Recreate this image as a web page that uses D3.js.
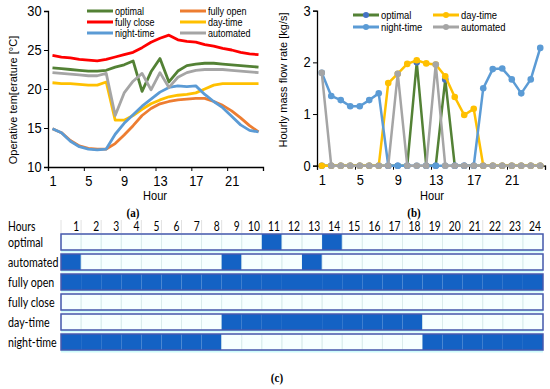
<html lang="eng">
<head>
<script src="https://d3js.org/d3.v7.min.js" charset="utf-8"></script>
<style>
  body { margin: 0; background: #fff; }
  text { font-family: 'Liberation Sans', Arial, sans-serif; fill: #000; }
  .tbl { font-family: Lato, 'Open Sans', sans-serif; }
  .cap { font-family: 'Liberation Serif', serif; font-weight: bold; }
</style>
</head>
<body>
<script>
// hours of the day
var hours = [1,2,3,4,5,6,7,8,9,10,11,12,13,14,15,16,17,18,19,20,21,22,23,24];
var hourLabels = [1,5,9,13,17,21];

// (a) operative temperature [°C]
var tOptimal   = [22.7,22.6,22.5,22.4,22.3,22.3,22.4,22.8,23.1,23.6,19.7,22.2,23.9,20.9,22.3,23.0,23.2,23.3,23.3,23.2,23.1,23.0,22.9,22.8];
var tFullyOpen = [14.9,14.4,13.4,12.7,12.4,12.3,12.3,13.0,14.1,15.3,16.6,17.5,18.1,18.4,18.6,18.7,18.8,18.8,18.4,17.9,17.2,16.3,15.3,14.5];
var tFullyClose= [24.3,24.1,24.0,23.8,23.7,23.6,23.8,24.1,24.4,24.7,25.3,26.0,26.5,26.9,26.3,26.1,26.0,25.7,25.5,25.2,25.0,24.7,24.5,24.4];
var tDayTime   = [20.8,20.7,20.7,20.6,20.5,20.5,20.9,16.0,16.0,16.6,17.4,18.1,18.6,19.0,19.2,19.3,19.5,20.0,20.5,20.7,20.7,20.7,20.7,20.7];
var tNightTime = [14.9,14.4,13.3,12.6,12.3,12.2,12.3,14.2,15.6,16.7,17.8,18.7,19.6,20.2,20.4,20.3,20.4,19.3,18.4,17.6,16.5,15.4,14.7,14.5];
var tAutomated = [22.1,22.0,21.9,21.8,21.7,21.7,22.0,16.6,19.5,21.0,22.0,19.9,22.1,20.2,21.5,22.1,22.4,22.5,22.5,22.5,22.4,22.3,22.2,22.1];

// (b) hourly mass flow rate [kg/s]
var fOptimal   = [0,0,0,0,0,0,0,0,0,0,2.0,0,0,1.67,0,0,0,0,0,0,0,0,0,0];
var fDayTime   = [0,0,0,0,0,0,0,1.6,1.78,1.97,2.04,1.98,1.96,1.73,1.33,0.98,1.1,0,0,0,0,0,0,0];
var fNightTime = [1.8,1.35,1.27,1.15,1.15,1.27,1.4,0,0,0,0,0,0,0,0,0,0,1.5,1.87,1.88,1.67,1.4,1.67,2.28];
var fAutomated = [1.8,0,0,0,0,0,0,0,1.78,0,0,0,1.96,0,0,0,0,0,0,0,0,0,0,0];

// (c) window opening schedule (1 = open)
var schedNames = ["optimal","automated","fully open","fully close","day-time","night-time"];
var sOptimal   = [0,0,0,0,0,0,0,0,0,0,1,0,0,1,0,0,0,0,0,0,0,0,0,0];
var sAutomated = [1,0,0,0,0,0,0,0,1,0,0,0,1,0,0,0,0,0,0,0,0,0,0,0];
var sFullyOpen = [1,1,1,1,1,1,1,1,1,1,1,1,1,1,1,1,1,1,1,1,1,1,1,1];
var sFullyClose= [0,0,0,0,0,0,0,0,0,0,0,0,0,0,0,0,0,0,0,0,0,0,0,0];
var sDayTime   = [0,0,0,0,0,0,0,0,1,1,1,1,1,1,1,1,1,1,0,0,0,0,0,0];
var sNightTime = [1,1,1,1,1,1,1,1,0,0,0,0,0,0,0,0,0,0,1,1,1,1,1,1];

var SX = 0.82; // the figure is squeezed horizontally

var svg = d3.select("body").append("svg").attr("width", 550).attr("height", 389);

function label(g, x, y, s, size, anchor, cls, sx) {
  var t = g.append("text")
    .attr("transform", "translate(" + x + "," + y + ") scale(" + (sx || SX) + ",1)")
    .attr("font-size", size)
    .attr("text-anchor", anchor || "start")
    .attr("dy", "0.35em")
    .text(s);
  if (cls) t.attr("class", cls);
  return t;
}

function vlabel(g, x, y, s, size) {
  return g.append("text")
    .attr("transform", "translate(" + x + "," + y + ") rotate(-90)")
    .attr("font-size", size).attr("text-anchor", "middle").attr("dy", "0.35em")
    .text(s);
}

function axes(g, x, y, yTicks, x0, y0) {
  var ya = g.append("g").attr("transform", "translate(" + x0 + ",0)")
    .call(d3.axisLeft(y).tickValues(yTicks).tickSize(4).tickPadding(3).tickFormat(d3.format("d")));
  ya.select(".domain").attr("stroke", "#000").attr("stroke-width", 1.3);
  ya.selectAll(".tick line").attr("stroke", "#000");
  ya.selectAll(".tick text").attr("font-size", 14).attr("font-family", "Liberation Sans")
    .attr("transform", "scale(0.92,1)");

  var xa = g.append("g").attr("transform", "translate(0," + y0 + ")")
    .call(d3.axisBottom(x).tickValues(hourLabels).tickSize(0).tickPadding(9));
  xa.select(".domain").remove();
  xa.selectAll(".tick text").attr("font-size", 14).attr("font-family", "Liberation Sans")
    .attr("transform", "scale(0.92,1)");

  var xt = g.append("g").attr("transform", "translate(0," + y0 + ")")
    .call(d3.axisBottom(x).tickValues([0.5,4.5,8.5,12.5,16.5,20.5,24.5]).tickSize(4).tickFormat(""));
  xt.select(".domain").attr("stroke", "#000").attr("stroke-width", 1.3);
  xt.selectAll(".tick line").attr("stroke", "#000");
}

// ---------- (a) ----------
var ga = svg.append("g");
var xA = d3.scaleLinear().domain([0.5, 24.5]).range([48, 263]);
var yA = d3.scaleLinear().domain([10, 30]).range([167, 11]);
axes(ga, xA, yA, [10,15,20,25,30], 48, 167);

var seriesA = [
  {name: "optimal", v: tOptimal, c: "#538135"},
  {name: "fully open", v: tFullyOpen, c: "#ED7D31"},
  {name: "fully close", v: tFullyClose, c: "#FF0000"},
  {name: "day-time", v: tDayTime, c: "#FFC000"},
  {name: "night-time", v: tNightTime, c: "#5B9BD5"},
  {name: "automated", v: tAutomated, c: "#A5A5A5"}
];
var lineA = d3.line().x(function(d, i) { return xA(hours[i]); }).y(function(d) { return yA(d); });
ga.selectAll(".sa").data(seriesA).enter().append("path")
  .attr("fill", "none").attr("stroke", function(d) { return d.c; })
  .attr("stroke-width", 2.8).attr("stroke-linejoin", "round")
  .attr("d", function(d) { return lineA(d.v); });

seriesA.forEach(function(s, i) {
  var lx = (i % 2 == 0) ? 87 : 180, ly = 11 + Math.floor(i / 2) * 11;
  ga.append("line").attr("x1", lx).attr("x2", lx + 26).attr("y1", ly).attr("y2", ly)
    .attr("stroke", s.c).attr("stroke-width", 3);
  label(ga, lx + 28, ly, s.name, 11);
});

vlabel(ga, 13, 100, "Operative tem[erature [°C]", 11);
label(ga, 155, 195, "Hour", 13.5, "middle");
label(ga, 133, 212, "(a)", 13.5, "middle", "cap");

// ---------- (b) ----------
var gb = svg.append("g");
var xB = d3.scaleLinear().domain([0.5, 24.5]).range([317, 545]);
var yB = d3.scaleLinear().domain([0, 3]).range([165.7, 10.7]);
axes(gb, xB, yB, [0,1,2,3], 317, 165.7);

var seriesB = [
  {name: "optimal", v: fOptimal, c: "#538135", m: "#4472C4"},
  {name: "day-time", v: fDayTime, c: "#FFC000", m: "#FFC000"},
  {name: "night-time", v: fNightTime, c: "#5B9BD5", m: "#5B9BD5"},
  {name: "automated", v: fAutomated, c: "#A5A5A5", m: "#A5A5A5"}
];
var lineB = d3.line().x(function(d, i) { return xB(hours[i]); }).y(function(d) { return yB(d); });
seriesB.forEach(function(s) {
  var g = gb.append("g");
  g.append("path").attr("fill", "none").attr("stroke", s.c).attr("stroke-width", 2.5)
    .attr("stroke-linejoin", "round").attr("d", lineB(s.v));
  g.selectAll("circle").data(s.v).enter().append("circle")
    .attr("cx", function(d, i) { return xB(hours[i]); })
    .attr("cy", function(d) { return yB(d); })
    .attr("r", 3.3).attr("fill", s.m);
});

seriesB.forEach(function(s, i) {
  var lx = (i % 2 == 0) ? 353 : 433, ly = 15 + Math.floor(i / 2) * 12;
  gb.append("line").attr("x1", lx).attr("x2", lx + 26).attr("y1", ly).attr("y2", ly)
    .attr("stroke", s.c).attr("stroke-width", 3);
  gb.append("circle").attr("cx", lx + 13).attr("cy", ly).attr("r", 3).attr("fill", s.m);
  label(gb, lx + 28, ly, s.name, 11.5);
});

vlabel(gb, 283, 80, "Hourly mass flow rate [kg/s]", 11);
label(gb, 432, 195, "Hour", 13.5, "middle");
label(gb, 414, 212, "(b)", 13.5, "middle", "cap");

// ---------- (c) ----------
var gc = svg.append("g");
var sched = [sOptimal, sAutomated, sFullyOpen, sFullyClose, sDayTime, sNightTime];
var xC = d3.scaleBand().domain(hours).range([61, 543]);
var yC = d3.scaleBand().domain(schedNames).range([234, 350]).paddingInner(0.2);

label(gc, 8, 227, "Hours", 12.5, "start", "tbl");
gc.selectAll(".hd").data(hours).enter().append("line")
  .attr("x1", function(d) { return xC(d); }).attr("x2", function(d) { return xC(d); })
  .attr("y1", 220).attr("y2", 233).attr("stroke", "#e2e2e2");
hours.forEach(function(h) {
  label(gc, xC(h) + xC.bandwidth() - 2, 227, String(h), 12.5, "end", "tbl");
});

schedNames.forEach(function(name, r) {
  var y0 = yC(name), bh = yC.bandwidth();
  label(gc, 8, y0 + bh / 2 + 0.5, name, 13, "start", "tbl");
  gc.append("rect").attr("x", 61).attr("y", y0 + bh - 1).attr("width", 482).attr("height", 3.5)
    .attr("fill", "#ccfbfb");
  gc.append("rect").attr("x", 61).attr("y", y0).attr("width", 482).attr("height", bh)
    .attr("fill", "#f6ffff");
  gc.selectAll(".c" + r).data(hours).enter().append("rect")
    .attr("x", function(d) { return xC(d); }).attr("y", y0)
    .attr("width", xC.bandwidth()).attr("height", bh)
    .attr("fill", function(d, i) { return sched[r][i] ? "#1462C4" : "none"; })
    .attr("stroke", function(d, i) { return sched[r][i] ? "none" : "#d9ecec"; })
    .attr("stroke-width", 0.8);
  gc.append("rect").attr("x", 61).attr("y", y0).attr("width", 482).attr("height", bh)
    .attr("fill", "none").attr("stroke", "#4759ad").attr("stroke-width", 1.5);
});

label(gc, 277, 377, "(c)", 13.5, "middle", "cap");
</script>
</body>
</html>
